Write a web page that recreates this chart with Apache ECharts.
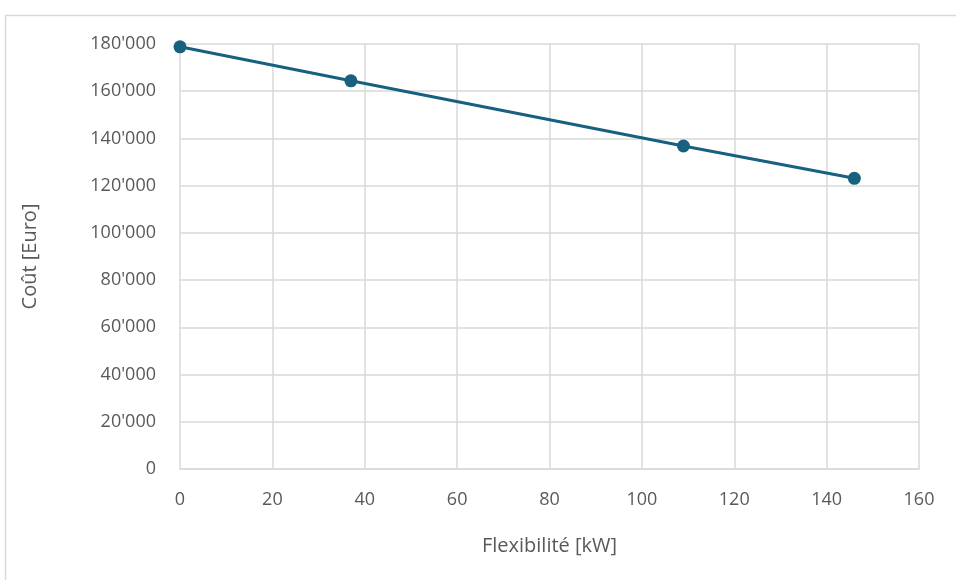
<!DOCTYPE html>
<html>
<head>
<meta charset="utf-8">
<script src="https://cdn.jsdelivr.net/npm/echarts@6/dist/echarts.min.js"></script>
<style>
html, body { margin: 0; padding: 0; background: #fff; }
#chart { width: 956px; height: 580px; }
</style>
</head>
<body>
<div id="chart"></div>
<script>
// Flexibility (kW) vs cost (Euro)
const flexKW = [0, 37, 109, 146];
const costEuro = [178800, 164400, 136800, 123100];
const xTicks = [0, 20, 40, 60, 80, 100, 120, 140, 160];
const yTicks = [0, 20000, 40000, 60000, 80000, 100000, 120000, 140000, 160000, 180000];

const textColor = '#595959';
const gridColor = '#d9d9d9';
const lineColor = '#17607f';
const font = '"Open Sans", "Liberation Sans", sans-serif';

function thousands(v) {
  return String(Math.round(v)).replace(/\B(?=(\d{3})+(?!\d))/g, "'");
}

const chart = echarts.init(document.getElementById('chart'), null, { renderer: 'canvas' });
chart.setOption({
  backgroundColor: '#ffffff',
  animation: false,
  graphic: [{
    type: 'rect',
    shape: { x: 5.5, y: 15.5, width: 960, height: 580 },
    style: { fill: 'none', stroke: '#d9d9d9', lineWidth: 1.5 },
    silent: true
  }],
  grid: { left: 180, right: 37, top: 44, bottom: 111 },
  xAxis: {
    type: 'value',
    min: xTicks[0],
    max: xTicks[xTicks.length - 1],
    interval: 20,
    name: 'Flexibilité [kW]',
    nameLocation: 'middle',
    nameGap: 67,
    nameTextStyle: { color: textColor, fontSize: 20, fontFamily: font },
    axisLine: { show: true, lineStyle: { color: gridColor, width: 1.5 } },
    axisTick: { show: false },
    axisLabel: { color: textColor, fontSize: 18, fontFamily: font, margin: 22 },
    splitLine: { show: true, lineStyle: { color: gridColor, width: 1.5 } }
  },
  yAxis: {
    type: 'value',
    min: yTicks[0],
    max: yTicks[yTicks.length - 1],
    interval: 20000,
    name: 'Coût [Euro]',
    nameLocation: 'middle',
    nameRotate: 90,
    nameGap: 140,
    nameTextStyle: { color: textColor, fontSize: 20, fontFamily: font },
    axisLine: { show: false },
    axisTick: { show: false },
    axisLabel: { color: textColor, fontSize: 18, fontFamily: font, margin: 24, formatter: thousands },
    splitLine: { show: true, lineStyle: { color: gridColor, width: 1.5 } }
  },
  series: [{
    type: 'line',
    data: flexKW.map((x, i) => [x, costEuro[i]]),
    symbol: 'circle',
    symbolSize: 13,
    lineStyle: { color: lineColor, width: 3 },
    itemStyle: { color: lineColor },
    z: 5
  }]
});
</script>
</body>
</html>
